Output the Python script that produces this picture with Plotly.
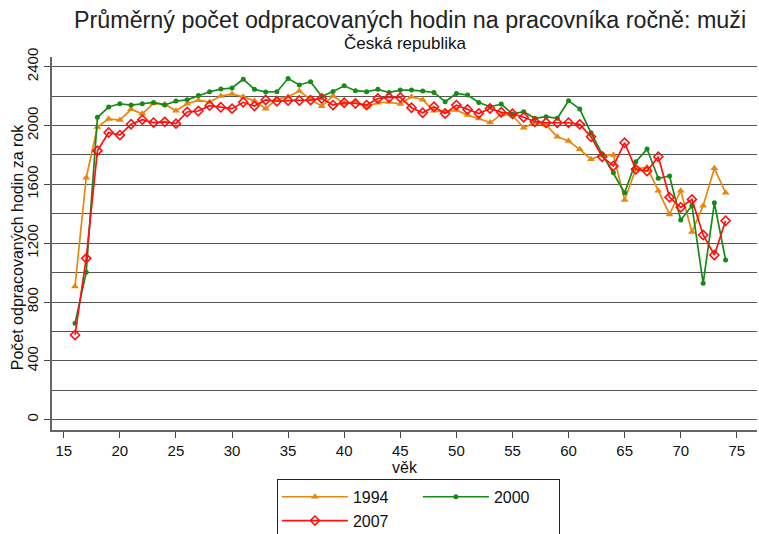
import plotly.graph_objects as go

ages = list(range(16, 75))

hours_1994 = [905, 1645, 1990, 2045, 2037, 2110, 2080, 2150, 2145, 2100,
              2148, 2172, 2160, 2200, 2215, 2195, 2168, 2115, 2180, 2196,
              2235, 2178, 2132, 2200, 2150, 2165, 2128, 2155, 2160, 2146,
              2196, 2175, 2100, 2095, 2105, 2071, 2048, 2020, 2075, 2068,
              1985, 2019, 2003, 1924, 1895, 1838, 1770, 1800, 1800, 1494,
              1704, 1716, 1557, 1396, 1557, 1276, 1455, 1709, 1543]

hours_2000 = [655, 1002, 2056, 2126, 2148, 2139, 2148, 2157, 2140, 2166,
              2175, 2205, 2230, 2248, 2255, 2315, 2246, 2228, 2230, 2320,
              2276, 2298, 2198, 2232, 2270, 2237, 2230, 2246, 2225, 2241,
              2241, 2234, 2225, 2162, 2218, 2207, 2157, 2128, 2146, 2078,
              2094, 2049, 2060, 2049, 2169, 2112, 1951, 1806, 1679, 1543,
              1754, 1840, 1641, 1657, 1358, 1455, 927, 1475, 1086]

hours_2007 = [576, 1097, 1829, 1953, 1935, 2009, 2040, 2020, 2025, 2013,
              2092, 2099, 2135, 2124, 2115, 2158, 2133, 2174, 2165, 2170,
              2170, 2173, 2184, 2139, 2155, 2150, 2139, 2184, 2191, 2191,
              2121, 2087, 2128, 2082, 2139, 2109, 2082, 2116, 2090, 2080,
              2056, 2026, 2019, 2019, 2019, 2008, 1924, 1788, 1725, 1883,
              1702, 1691, 1788, 1512, 1444, 1498, 1256, 1120, 1353]

x_ticks = [15, 20, 25, 30, 35, 40, 45, 50, 55, 60, 65, 70, 75]
y_ticks = [0, 400, 800, 1200, 1600, 2000, 2400]

title_text = "Průměrný počet odpracovaných hodin na pracovníka ročně: muži"
subtitle_text = "Česká republika"
x_title = "věk"
y_title = "Počet odpracovaných hodin za rok"

FONT = "Arial, Liberation Sans, sans-serif"
ORANGE = "#E8870E"
GREEN = "#178A17"
RED = "#FF1010"

fig = go.Figure()
fig.add_trace(go.Scatter(
    x=ages, y=hours_1994, name="1994", mode="lines+markers",
    legendgroup="a",
    line=dict(color=ORANGE, width=1.7),
    marker=dict(symbol="triangle-up", size=7, color=ORANGE)))
fig.add_trace(go.Scatter(
    x=ages, y=hours_2000, name="2000", mode="lines+markers",
    legendgroup="b",
    line=dict(color=GREEN, width=1.7),
    marker=dict(symbol="circle", size=5, color=GREEN)))
fig.add_trace(go.Scatter(
    x=ages, y=hours_2007, name="2007", mode="lines+markers",
    legendgroup="a",
    line=dict(color=RED, width=1.7),
    marker=dict(symbol="diamond-open", size=7, color=RED,
                line=dict(width=1.6, color=RED))))

fig.update_layout(
    width=759, height=534,
    paper_bgcolor="white", plot_bgcolor="white",
    margin=dict(l=52, r=2, t=57, b=104, autoexpand=False),
    font=dict(family=FONT, color="#111", size=15),
    showlegend=True,
    legend=dict(
        orientation="h", traceorder="grouped",
        x=0.319, xanchor="left", y=-0.131, yanchor="top",
        bordercolor="#222", borderwidth=1,
        font=dict(family=FONT, size=16, color="#111"),
        itemwidth=66, entrywidth=60, tracegroupgap=20,
        bgcolor="white"),
    annotations=[
        dict(text=title_text, xref="paper", yref="paper",
             x=0.508, y=1.10, xanchor="center", yanchor="middle",
             showarrow=False, font=dict(family=FONT, size=23.3, color="#222")),
        dict(text=subtitle_text, xref="paper", yref="paper",
             x=0.5, y=1.0375, xanchor="center", yanchor="middle",
             showarrow=False, font=dict(family=FONT, size=17, color="#111")),
        dict(text=x_title, xref="paper", yref="paper",
             x=0.5, y=-0.1, xanchor="center", yanchor="middle",
             showarrow=False, font=dict(family=FONT, size=16, color="#111")),
        dict(text=y_title, xref="paper", yref="paper",
             x=-0.0496, y=0.49, xanchor="center", yanchor="middle",
             textangle=-90,
             showarrow=False, font=dict(family=FONT, size=16, color="#111")),
    ],
)

fig.update_xaxes(
    range=[13.95, 76.8],
    tickvals=x_ticks, ticktext=[str(v) for v in x_ticks],
    ticks="outside", ticklen=6, tickcolor="#444",
    showline=True, linecolor="#666", linewidth=1.5,
    showgrid=False, zeroline=False,
    tickfont=dict(size=15),
)
fig.update_yaxes(
    range=[-70, 2466],
    tickvals=y_ticks, ticktext=[str(v) for v in y_ticks],
    tickangle=-90,
    ticks="outside", ticklen=6, tickcolor="#444",
    showline=True, linecolor="#666", linewidth=1.5,
    showgrid=True, gridcolor="#555", gridwidth=1,
    minor=dict(dtick=200, tick0=0, showgrid=True, gridcolor="#555", gridwidth=1),
    zeroline=False,
    tickfont=dict(size=15),
)

fig.write_html("out.html",
               config={"displayModeBar": False},
               post_script="document.body.style.margin='0';")
